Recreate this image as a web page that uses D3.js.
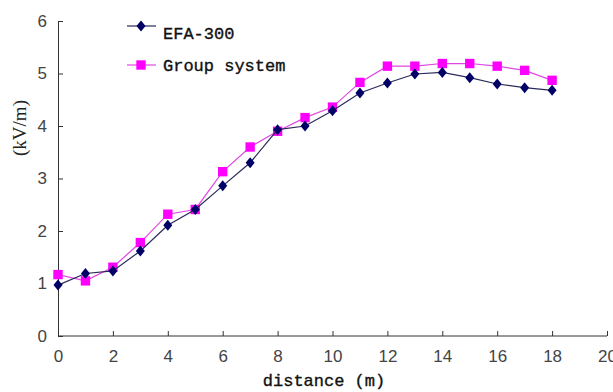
<!DOCTYPE html>
<html>
<head>
<meta charset="utf-8">
<script src="https://cdn.jsdelivr.net/npm/d3@7"></script>
<style>
  html, body { margin: 0; padding: 0; background: #fff; }
</style>
</head>
<body>
<div id="chart"></div>
<script>
// distance (m)
const distance = [0, 1, 2, 3, 4, 5, 6, 7, 8, 9, 10, 11, 12, 13, 14, 15, 16, 17, 18];
// EFA-300 readings (kV/m)
const efa300 = [0.97, 1.19, 1.24, 1.62, 2.11, 2.41, 2.86, 3.30, 3.93, 4.00, 4.29, 4.63, 4.82, 4.99, 5.02, 4.92, 4.80, 4.73, 4.68];
// Group system readings (kV/m)
const groupSystem = [1.17, 1.05, 1.31, 1.78, 2.32, 2.41, 3.13, 3.60, 3.90, 4.16, 4.36, 4.83, 5.14, 5.14, 5.19, 5.19, 5.14, 5.06, 4.87];
const xTicks = [0, 2, 4, 6, 8, 10, 12, 14, 16, 18, 20];
const yTicks = [0, 1, 2, 3, 4, 5, 6];

const width = 613;
const height = 392;
const margin = { top: 21, right: 6, bottom: 56, left: 58 };
const innerW = width - margin.left - margin.right;
const innerH = height - margin.top - margin.bottom;

const navy = '#000066';
const pink = '#ff00ff';
const axisColor = '#333';

const x = d3.scaleLinear().domain([0, 20]).range([0, innerW]);
const y = d3.scaleLinear().domain([0, 6]).range([innerH, 0]);

// wider diamond than d3.symbolDiamond
const diamond = {
  draw(ctx) {
    ctx.moveTo(0, -5.5);
    ctx.lineTo(4.5, 0);
    ctx.lineTo(0, 5.5);
    ctx.lineTo(-4.5, 0);
    ctx.closePath();
  }
};

const svg = d3.select('#chart')
  .append('svg')
  .attr('width', width)
  .attr('height', height)
  .append('g')
  .attr('transform', `translate(${margin.left},${margin.top})`);

// X axis, ticks pointing inward
svg.append('g')
  .attr('transform', `translate(0,${innerH})`)
  .call(d3.axisBottom(x).tickValues(xTicks).tickSize(-5).tickPadding(14).tickFormat(d3.format('d')))
  .call(g => g.select('.domain').attr('stroke', axisColor).attr('d', `M0.5,0H${innerW}`))
  .call(g => g.selectAll('.tick line').attr('stroke', axisColor))
  .call(g => g.selectAll('.tick text')
    .attr('fill', '#444')
    .attr('font-family', 'Liberation Sans, sans-serif')
    .attr('font-size', '17px'));

// Y axis
svg.append('g')
  .call(d3.axisLeft(y).tickValues(yTicks).tickSize(-5).tickPadding(11).tickFormat(d3.format('d')))
  .call(g => g.select('.domain').attr('stroke', axisColor).attr('d', `M0.5,${innerH}V0`))
  .call(g => g.selectAll('.tick line').attr('stroke', axisColor))
  .call(g => g.selectAll('.tick text')
    .attr('fill', '#444')
    .attr('font-family', 'Liberation Sans, sans-serif')
    .attr('font-size', '17px'));

const seriesList = [
  { name: 'EFA-300', values: efa300, color: navy, lineColor: '#2a2a5a', shape: diamond, size: 64 },
  { name: 'Group system', values: groupSystem, color: pink, lineColor: '#e048e0', shape: d3.symbolSquare, size: 88 }
];

// draw pink first so navy sits on top where they overlap
[seriesList[1], seriesList[0]].forEach(s => {
  const pts = distance.map((d, i) => ({ d, v: s.values[i] }));
  svg.append('path')
    .datum(pts)
    .attr('fill', 'none')
    .attr('stroke', s.lineColor)
    .attr('stroke-width', 1.2)
    .attr('d', d3.line().x(p => x(p.d)).y(p => y(p.v)));

  svg.selectAll(null)
    .data(pts)
    .join('path')
    .attr('transform', p => `translate(${x(p.d)},${y(p.v)})`)
    .attr('d', d3.symbol().type(s.shape).size(s.size))
    .attr('fill', s.color);
});

// Legend
const legend = svg.append('g').attr('transform', `translate(${127 - margin.left},${26 - margin.top})`);
seriesList.forEach((s, i) => {
  const row = legend.append('g').attr('transform', `translate(0,${i * 39})`);
  row.append('line')
    .attr('x1', 0).attr('x2', 29)
    .attr('stroke', s.lineColor).attr('stroke-width', 1.2);
  row.append('path')
    .attr('transform', 'translate(14,0)')
    .attr('d', d3.symbol().type(s.shape).size(s.size))
    .attr('fill', s.color);
  row.append('text')
    .attr('x', 36)
    .attr('y', i === 0 ? 7 : 0)
    .attr('dy', '0.35em')
    .attr('font-family', 'Liberation Mono, DejaVu Sans Mono, monospace')
    .attr('font-size', '17px')
    .attr('fill', '#111')
    .attr('stroke', '#111')
    .attr('stroke-width', 0.35)
    .text(s.name);
});

// Axis titles
svg.append('text')
  .attr('transform', `translate(${19 - margin.left},${128 - margin.top}) rotate(-90)`)
  .attr('text-anchor', 'middle')
  .attr('dy', '0.35em')
  .attr('font-family', 'Liberation Serif, serif')
  .attr('font-size', '19px')
  .attr('fill', '#222')
  .text('(kV/m)');

svg.append('text')
  .attr('x', 324 - margin.left)
  .attr('y', 386 - margin.top)
  .attr('text-anchor', 'middle')
  .attr('font-family', 'Liberation Mono, DejaVu Sans Mono, monospace')
  .attr('font-size', '17px')
  .attr('fill', '#111')
  .attr('stroke', '#111')
  .attr('stroke-width', 0.35)
  .text('distance (m)');
</script>
</body>
</html>
